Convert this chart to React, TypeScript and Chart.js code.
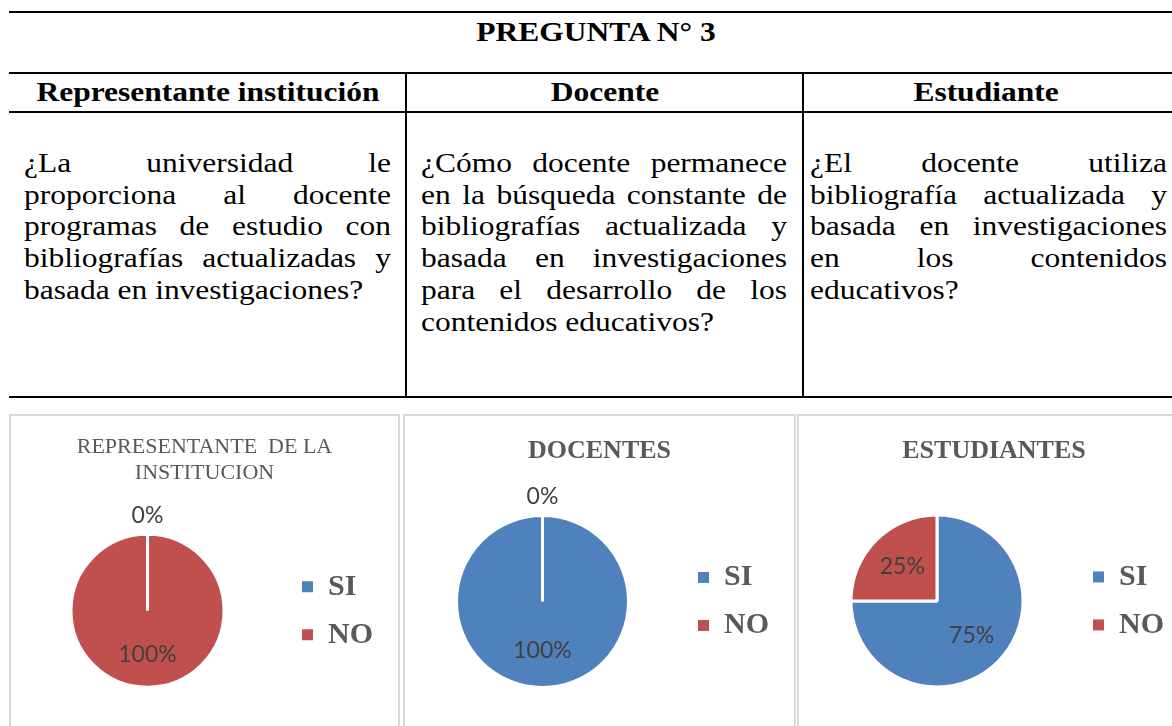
import React, { useEffect, useRef } from 'react';
import { Chart, registerables } from 'chart.js';

Chart.register(...registerables);

// ---- data ----
const categories = ['SI', 'NO'];
const representanteValues = [0, 100];
const docentesValues = [100, 0];
const estudiantesValues = [75, 25];
const sliceColors = ['#4F81BD', '#C0504D'];

const tableTitle = 'PREGUNTA N° 3';
const columnHeaders = ['Representante institución', 'Docente', 'Estudiante'];
const col1Lines = [
  '¿La universidad le',
  'proporciona al docente',
  'programas de estudio con',
  'bibliografías actualizadas y',
  'basada en investigaciones?',
];
const col2Lines = [
  '¿Cómo docente permanece',
  'en la búsqueda constante de',
  'bibliografías actualizada y',
  'basada en investigaciones',
  'para el desarrollo de los',
  'contenidos educativos?',
];
const col3Lines = [
  '¿El docente utiliza',
  'bibliografía actualizada y',
  'basada en investigaciones',
  'en los contenidos',
  'educativos?',
];

const SERIF = '"Liberation Serif", "Times New Roman", serif';
const SX = 1.145; // horizontal stretch of the table text

const pctLabels = {
  id: 'pctLabels',
  afterDatasetsDraw(chart: any) {
    const ctx = chart.ctx;
    const meta = chart.getDatasetMeta(0);
    const data = chart.data.datasets[0].data as number[];
    ctx.save();
    ctx.font = '23px Lato, "Open Sans", sans-serif';
    ctx.fillStyle = '#404040';
    ctx.textAlign = 'center';
    ctx.textBaseline = 'middle';
    meta.data.forEach((arc: any, i: number) => {
      const p = arc.getProps(['x', 'y', 'startAngle', 'endAngle', 'outerRadius'], true);
      const mid = (p.startAngle + p.endAngle) / 2;
      const v = data[i];
      const r = v === 0 ? p.outerRadius + 19 : p.outerRadius * 0.57;
      ctx.fillText(v + '%', p.x + Math.cos(mid) * r, p.y + Math.sin(mid) * r);
    });
    ctx.restore();
  },
};

type PieProps = {
  values: number[];
  title: string | string[];
  titleSize: number;
  titleWeight: string;
  titlePad: { top: number; bottom: number };
  radius: number;
  width: number;
  height: number;
};

function PieChart(props: PieProps) {
  const ref = useRef<HTMLCanvasElement | null>(null);
  useEffect(() => {
    if (!ref.current) return;
    const defaultGen = (Chart as any).overrides.pie.plugins.legend.labels.generateLabels;
    const chart = new Chart(ref.current, {
      type: 'pie',
      data: {
        labels: categories,
        datasets: [
          {
            data: props.values,
            backgroundColor: sliceColors,
            borderColor: '#FFFFFF',
            borderWidth: 3,
          },
        ],
      },
      options: {
        responsive: false,
        animation: false,
        radius: props.radius,
        layout: { padding: 0 },
        plugins: {
          title: {
            display: true,
            text: props.title,
            color: '#595959',
            font: { family: SERIF, size: props.titleSize, weight: props.titleWeight as any, lineHeight: 1.15 },
            padding: props.titlePad,
          },
          legend: {
            position: 'right',
            fullSize: false,
            labels: {
              color: '#595959',
              font: { family: SERIF, size: 30, weight: 'bold' },
              boxWidth: 11,
              boxHeight: 11,
              padding: 18,
              generateLabels: (c: any) =>
                defaultGen(c).map((l: any) => ({ ...l, text: l.text + '  ', lineWidth: 0 })),
            },
          },
          tooltip: { enabled: false },
        },
      } as any,
      plugins: [pctLabels],
    });
    return () => chart.destroy();
  }, []);
  return <canvas ref={ref} width={props.width} height={props.height} style={{ display: 'block' }} />;
}

function Line({ x, y, w, h }: { x: number; y: number; w: number; h: number }) {
  return <div style={{ position: 'absolute', left: x, top: y, width: w, height: h, background: '#000' }} />;
}

function TextBlock({ lines, left, width }: { lines: string[]; left: number; width: number }) {
  return (
    <div
      style={{
        position: 'absolute',
        left,
        top: 147,
        width: width / SX,
        transform: `scaleX(${SX})`,
        transformOrigin: '0 0',
        fontFamily: SERIF,
        fontSize: 27.5,
        lineHeight: '31.7px',
        color: '#000',
      }}
    >
      {lines.map((t, i) => (
        <div
          key={i}
          style={{
            textAlign: i === lines.length - 1 ? 'left' : 'justify',
            textAlignLast: i === lines.length - 1 ? 'left' : 'justify',
          }}
        >
          {t}
        </div>
      ))}
    </div>
  );
}

function CenteredBold({ text, cx, top }: { text: string; cx: number; top: number }) {
  return (
    <div
      style={{
        position: 'absolute',
        left: cx - 300,
        top,
        width: 600,
        textAlign: 'center',
        transform: `scaleX(${SX})`,
        transformOrigin: '50% 0',
        fontFamily: SERIF,
        fontWeight: 'bold',
        fontSize: 27.5,
        lineHeight: '31.7px',
        whiteSpace: 'nowrap',
        color: '#000',
      }}
    >
      {text}
    </div>
  );
}

function Panel({ left, width, children }: { left: number; width: number; children: React.ReactNode }) {
  return (
    <div
      style={{
        position: 'absolute',
        left,
        top: 414,
        width,
        height: 330,
        boxSizing: 'border-box',
        border: '2px solid #D9D9D9',
        background: '#fff',
      }}
    >
      {children}
    </div>
  );
}

export default function App() {
  useEffect(() => {
    document.body.style.margin = '0';
    document.body.style.overflow = 'hidden';
  }, []);
  return (
    <div style={{ position: 'relative', width: 1172, height: 726, overflow: 'hidden', background: '#fff' }}>
      <Line x={9} y={11} w={1163} h={2} />
      <Line x={9} y={72} w={1163} h={2} />
      <Line x={9} y={111} w={1163} h={2} />
      <Line x={9} y={396} w={1163} h={2} />
      <Line x={405} y={72} w={2} h={326} />
      <Line x={802} y={72} w={2} h={326} />

      <CenteredBold text={tableTitle} cx={596} top={16} />
      <CenteredBold text={columnHeaders[0]} cx={207.5} top={76} />
      <CenteredBold text={columnHeaders[1]} cx={604.5} top={76} />
      <CenteredBold text={columnHeaders[2]} cx={986} top={76} />

      <TextBlock lines={col1Lines} left={24} width={367} />
      <TextBlock lines={col2Lines} left={421} width={366} />
      <TextBlock lines={col3Lines} left={810} width={357} />

      <Panel left={9} width={391}>
        <PieChart
          values={representanteValues}
          title={['REPRESENTANTE  DE LA', 'INSTITUCION']}
          titleSize={22}
          titleWeight="normal"
          titlePad={{ top: 19, bottom: 0 }}
          radius={76.5}
          width={387}
          height={320}
        />
      </Panel>
      <Panel left={403} width={393}>
        <PieChart
          values={docentesValues}
          title="DOCENTES"
          titleSize={26}
          titleWeight="bold"
          titlePad={{ top: 20, bottom: 1 }}
          radius={86}
          width={389}
          height={320}
        />
      </Panel>
      <Panel left={797} width={394}>
        <PieChart
          values={estudiantesValues}
          title="ESTUDIANTES"
          titleSize={26}
          titleWeight="bold"
          titlePad={{ top: 20, bottom: 0 }}
          radius={86}
          width={390}
          height={320}
        />
      </Panel>
    </div>
  );
}
